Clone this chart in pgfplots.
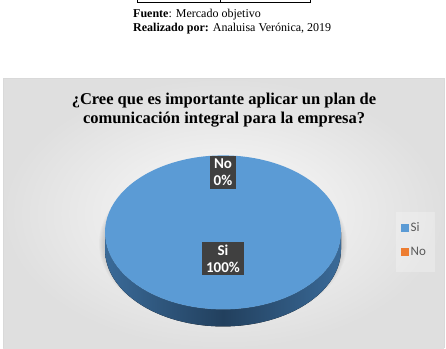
\documentclass[border=0pt]{standalone}
\usepackage{fontspec}
\setmainfont{Liberation Serif}
\newfontfamily\calibri{Carlito}
\usepackage{pgfplots}
\pgfplotsset{compat=1.18}
\usepackage{pgfplotstable}
\definecolor{siblue}{HTML}{5B9BD5}
\definecolor{noorange}{HTML}{ED7D31}
\definecolor{sidemid}{HTML}{22405E}
\definecolor{sideedge}{HTML}{3A6A98}
\definecolor{lbl}{HTML}{404040}
\definecolor{legtext}{HTML}{595959}

\pgfplotstableread{
label value
Si 100
No 0
}\piedata

\begin{document}
\begin{tikzpicture}
\begin{axis}[
  width=446pt, height=348pt, scale only axis,
  xmin=0, xmax=446, ymin=0, ymax=348, y dir=reverse,
  axis lines=none, clip=false,
  legend style={at={(axis cs:398,217)}, anchor=north west, draw=none,
    fill=none,
    font=\calibri\fontsize{13}{15}\selectfont, text=legtext,
    row sep=10pt, inner sep=3pt},
  legend cell align=left,
]
\path (axis cs:0,0) rectangle (axis cs:446,348);
% header
\draw[line width=0.8pt] (axis cs:137,0) -- (axis cs:137,2) -- (axis cs:310,2) -- (axis cs:310,0);
\draw[line width=0.8pt] (axis cs:220,0) -- (axis cs:220,2);
\node[anchor=base west, font=\fontsize{12}{14}\selectfont, inner sep=0pt] at (axis cs:133,17) {\textbf{Fuente}: Mercado objetivo};
\node[anchor=base west, font=\fontsize{12}{14}\selectfont, inner sep=0pt] at (axis cs:133,31) {\textbf{Realizado por:} Analuisa Verónica, 2019};
% chart area
\shade[inner color=gray!3, outer color=gray!25] (axis cs:3,78) rectangle (axis cs:444,348);
\draw[gray!30, line width=0.5pt] (axis cs:3,348) -- (axis cs:3,78) -- (axis cs:444,78) -- (axis cs:444,348);
\fill[white, opacity=0.25] (axis cs:396,212) rectangle (axis cs:435,272);
% title
\node[anchor=base, font=\bfseries\fontsize{16.5}{19}\selectfont, inner sep=0pt] at (axis cs:224,104) {¿Cree que es importante aplicar un plan de};
\node[anchor=base, font=\bfseries\fontsize{16.5}{19}\selectfont, inner sep=0pt] at (axis cs:224,123) {comunicación integral para la empresa?};
% shadow
\fill[black, opacity=0.025] (axis cs:223,243) ellipse [x radius=118pt, y radius=77pt];
\fill[black, opacity=0.025] (axis cs:223,243) ellipse [x radius=119pt, y radius=78pt];
\fill[black, opacity=0.025] (axis cs:223,243) ellipse [x radius=120pt, y radius=79pt];
\fill[black, opacity=0.025] (axis cs:223,243) ellipse [x radius=121pt, y radius=80pt];
\fill[black, opacity=0.025] (axis cs:223,243) ellipse [x radius=122pt, y radius=81pt];
\fill[black, opacity=0.025] (axis cs:223,243) ellipse [x radius=123pt, y radius=82pt];
\fill[black, opacity=0.025] (axis cs:223,243) ellipse [x radius=124pt, y radius=83pt];
% side of pie
\fill[left color=sideedge, right color=sideedge, middle color=sidemid]
  (axis cs:105,232) -- (axis cs:105,249)
  arc[start angle=180, end angle=360, x radius=118pt, y radius=77pt]
  -- (axis cs:341,232)
  arc[start angle=0, end angle=-180, x radius=118pt, y radius=77pt] -- cycle;
% top face slices from data
\pgfplotstablegetelem{0}{value}\of\piedata
\pgfmathsetmacro{\siang}{3.6*\pgfplotsretval}
\fill[siblue] (axis cs:223,232) -- ++(90:118pt and 77pt)
  arc[start angle=90, end angle={90-\siang}, x radius=118pt, y radius=77pt] -- cycle;
\pgfplotstablegetelem{1}{value}\of\piedata
\pgfmathsetmacro{\noang}{3.6*\pgfplotsretval}
\ifdim\noang pt>0pt
\fill[noorange] (axis cs:223,232) -- ++({90-\siang}:118pt and 77pt)
  arc[start angle={90-\siang}, end angle={90-\siang-\noang}, x radius=118pt, y radius=77pt] -- cycle;
\fi
% labels
\node[fill=lbl, text=white, align=center, inner xsep=4pt, inner ysep=3pt, font=\calibri\bfseries\fontsize{15}{17}\selectfont] at (axis cs:223,172) {No\\0\%};
\node[fill=lbl, text=white, align=center, inner xsep=4pt, inner ysep=3pt, font=\calibri\bfseries\fontsize{15}{17}\selectfont] at (axis cs:223,258) {Si\\100\%};
% legend
\addlegendimage{legend image code/.code={\fill[siblue] (0pt,-3.5pt) rectangle (7pt,3.5pt);}}
\addlegendentry{Si}
\addlegendimage{legend image code/.code={\fill[noorange] (0pt,-3.5pt) rectangle (7pt,3.5pt);}}
\addlegendentry{No}
\end{axis}
\end{tikzpicture}
\end{document}
